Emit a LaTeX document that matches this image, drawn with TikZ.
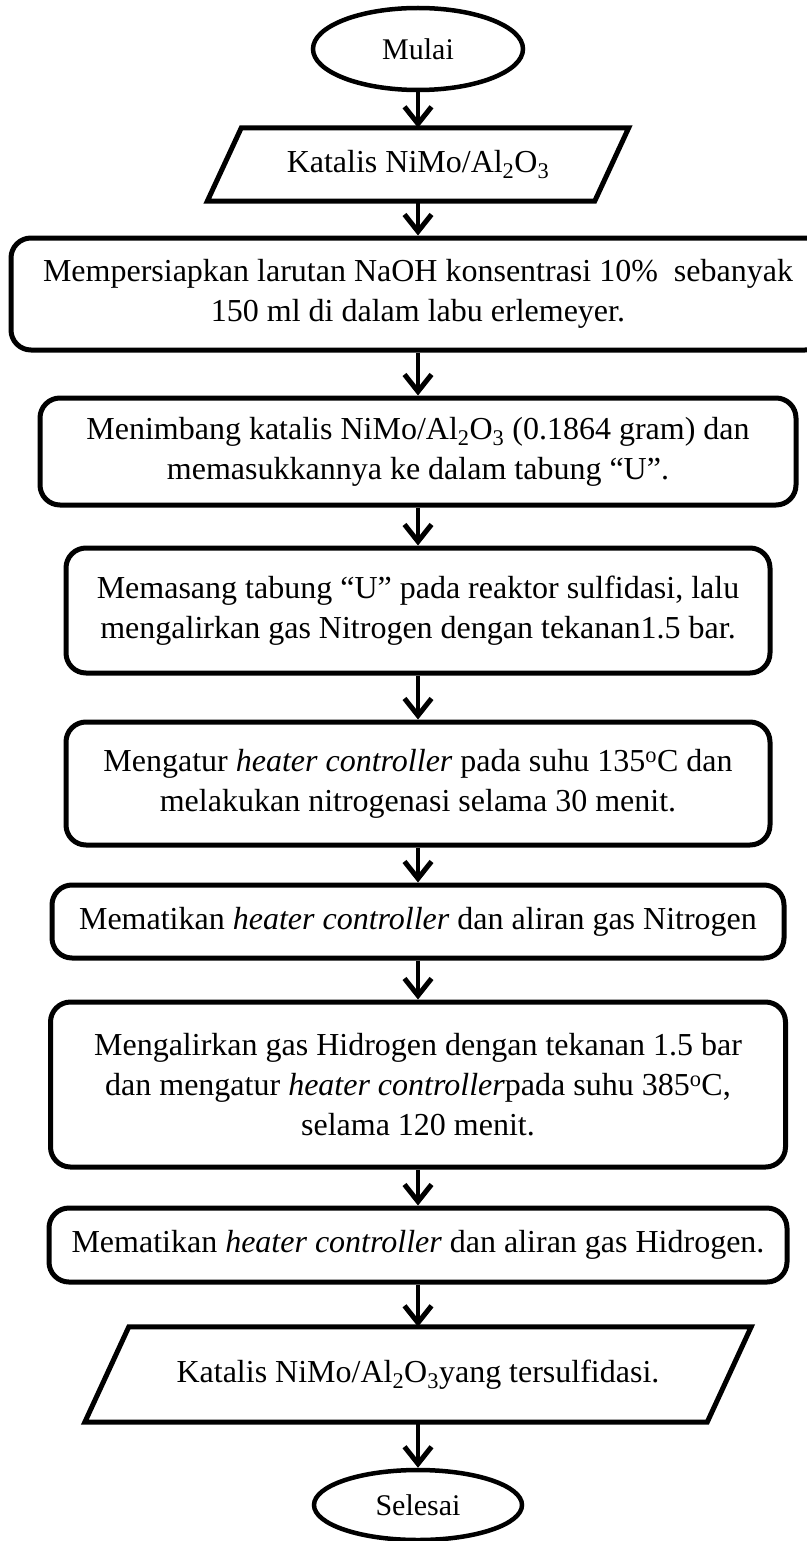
\documentclass[tikz,border=0pt]{standalone}
\usepackage{fontspec}
\setmainfont{Liberation Serif}
\usetikzlibrary{arrows.meta,shapes.geometric,calc}

\begin{document}
\begin{tikzpicture}[x=1pt,y=-1pt,
  every node/.style={font=\fontsize{32}{40}\selectfont},
  terminal/.style={ellipse, draw, line width=4.5pt, inner sep=0pt, font=\fontsize{30}{36}\selectfont},
  procbox/.style={rectangle, rounded corners=20pt, draw, line width=5pt, align=center, inner sep=0pt},
  iobox/.style={rectangle, inner sep=0pt, align=center},
  ioframe/.style={line width=5pt, line join=miter},
  flow/.style={line width=4pt, -{Straight Barb[length=17pt,width=27pt,line width=5pt]}},
]
\useasboundingbox (0,0) rectangle (806,1541);

% start / end terminals
\node[terminal, minimum width=210pt, minimum height=82pt] (start) at (418,49) {Mulai};
\node[terminal, minimum width=208pt, minimum height=70pt] (stop) at (418,1505) {Selesai};

% input parallelogram
\node[iobox, minimum width=387pt, minimum height=73pt] (in) at (418,164.5) {Katalis NiMo/Al\textsubscript{2}O\textsubscript{3}};
\draw[ioframe] ($(in.north west)+(17,0)$) -- ($(in.north east)+(17,0)$)
  -- ($(in.south east)+(-17,0)$) -- ($(in.south west)+(-17,0)$) -- cycle;

% process steps
\node[procbox, minimum width=814pt, minimum height=112pt] (s1) at (418,294)
  {Mempersiapkan larutan NaOH konsentrasi 10\%\ \ sebanyak\\150 ml di dalam labu erlemeyer.};
\node[procbox, minimum width=756pt, minimum height=107pt] (s2) at (418,451.5)
  {Menimbang katalis NiMo/Al\textsubscript{2}O\textsubscript{3} (0.1864 gram) dan\\memasukkannya ke dalam tabung “U”.};
\node[procbox, minimum width=704pt, minimum height=125pt] (s3) at (418,610.5)
  {Memasang tabung “U” pada reaktor sulfidasi, lalu\\mengalirkan gas Nitrogen dengan tekanan1.5 bar.};
\node[procbox, minimum width=704pt, minimum height=123pt] (s4) at (418,783.5)
  {Mengatur \textit{heater controller} pada suhu 135\textsuperscript{o}C dan\\melakukan nitrogenasi selama 30 menit.};
\node[procbox, minimum width=732pt, minimum height=73pt] (s5) at (418,921.5)
  {Mematikan \textit{heater controller} dan aliran gas Nitrogen};
\node[procbox, minimum width=735pt, minimum height=165pt] (s6) at (418,1084.5)
  {Mengalirkan gas Hidrogen dengan tekanan 1.5 bar\\dan mengatur \textit{heater controller}pada suhu 385\textsuperscript{o}C,\\selama 120 menit.};
\node[procbox, minimum width=738pt, minimum height=74pt] (s7) at (418,1245)
  {Mematikan \textit{heater controller} dan aliran gas Hidrogen.};

% output parallelogram
\node[iobox, minimum width=622pt, minimum height=95pt] (out) at (418,1374.5)
  {Katalis NiMo/Al\textsubscript{2}O\textsubscript{3}yang tersulfidasi.};
\draw[ioframe] ($(out.north west)+(22,0)$) -- ($(out.north east)+(22,0)$)
  -- ($(out.south east)+(-22,0)$) -- ($(out.south west)+(-22,0)$) -- cycle;

% flow connectors
\foreach \a/\b in {start/in, in/s1, s1/s2, s2/s3, s3/s4, s4/s5, s5/s6, s6/s7, s7/out, out/stop}
  \draw[flow] (\a.south) -- (\b.north);
\end{tikzpicture}
\end{document}
